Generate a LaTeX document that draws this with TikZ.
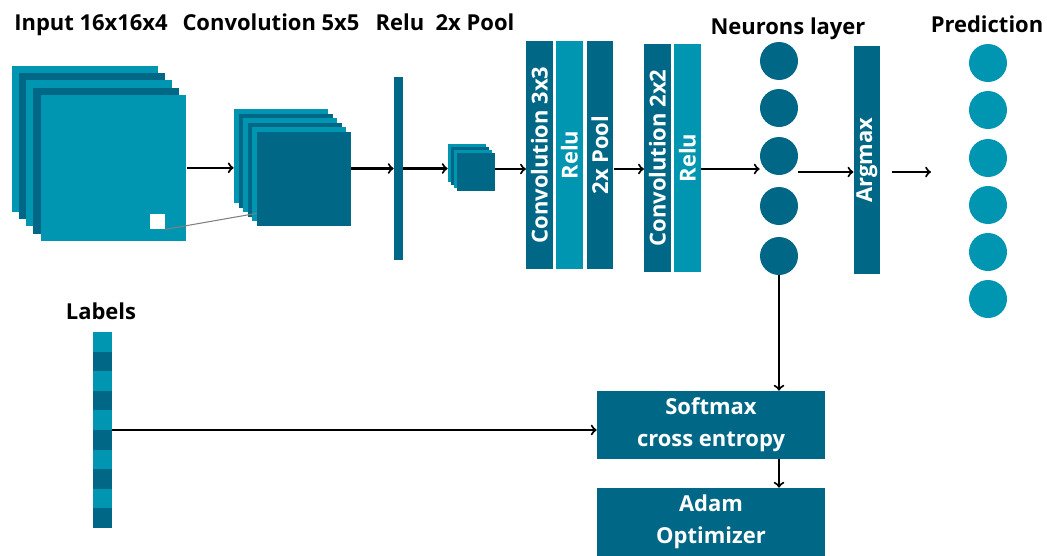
\documentclass[tikz,border=0pt]{standalone}
\usepackage{fontspec}
\setmainfont{Open Sans}
\usepackage{graphicx}
\usepackage{tikz}
\usetikzlibrary{positioning}
\definecolor{tealL}{RGB}{0,150,178}
\definecolor{tealD}{RGB}{0,104,134}

\begin{document}
\begin{tikzpicture}[x=0.02cm, y=-0.02cm,
    every node/.style={font=\fontsize{12.5}{18}\selectfont\bfseries},
    layer/.style={inner sep=0pt, minimum size=#1},
    bar/.style={fill=#1, text=white, inner sep=0pt, minimum width=0.53cm, minimum height=4.56cm},
    neuron/.style={circle, fill=#1, inner sep=0pt, minimum size=0.76cm},
    box/.style={fill=tealD, text=white, align=center, inner sep=0pt, minimum width=4.56cm, minimum height=1.36cm},
    arr/.style={->, line width=1.2pt}]
    \useasboundingbox (0,0) rectangle (1047,555);

    % Titles
    \node[anchor=base] (tin) at (91,30) {Input 16x16x4};
    \node[anchor=base] (tconv) at (271,30) {Convolution 5x5};
    \node[anchor=base] (trelu) at (400,30) {Relu};
    \node[anchor=base] (tpool) at (475,30) {2x Pool};
    \node[anchor=base] (tneur) at (788,34) {Neurons layer};
    \node[anchor=base] (tpred) at (987,32) {Prediction};
    \node[anchor=base] (tlab) at (101,319) {Labels};

    % Input stack
    \foreach \i/\c in {0/tealL,1/tealD,2/tealL,3/tealD,4/tealL}
        \node[layer=2.92cm, fill=\c] (in\i) at ({84.7+7.2*\i},{139+7.2*\i}) {};
    \node[layer=0.3cm, fill=white] (patch) at (157.5,221.5) {};

    % Convolution 5x5 stack
    \foreach \i/\c in {0/tealL,1/tealD,2/tealL,3/tealD,4/tealL,5/tealD}
        \node[layer=1.88cm, fill=\c] (cv\i) at ({281+4.6*\i},{156+4.6*\i}) {};
    \draw[gray, line width=0.6pt] (patch.south east) -- ([yshift=0.26cm]cv5.south west);

    % Relu and pool
    \node[fill=tealD, inner sep=0pt, minimum width=0.18cm, minimum height=3.66cm] (relu) at (398.5,168.5) {};
    \foreach \i/\c in {0/tealL,1/tealD,2/tealL,3/tealD}
        \node[layer=0.76cm, fill=\c] (pl\i) at ({467+3*\i},{163+3*\i}) {};

    % Vertical layers
    \node[bar=tealD] (c3) at (539.5,155) {\rotatebox{90}{Convolution 3x3}};
    \node[bar=tealL] (r1) at (569.5,155) {\rotatebox{90}{Relu}};
    \node[bar=tealD] (p1) at (600,155) {\rotatebox{90}{2x Pool}};
    \node[bar=tealD] (c2) at (657.5,158) {\rotatebox{90}{Convolution 2x2}};
    \node[bar=tealL] (r2) at (687.5,158) {\rotatebox{90}{Relu}};
    \node[bar=tealD] (amax) at (867,160) {\rotatebox{90}{Argmax}};

    % Neurons and prediction
    \foreach \i/\y in {1/61,2/108,3/156,4/206,5/256}
        \node[neuron=tealD] (n\i) at (779,\y) {};
    \foreach \i/\y in {1/63,2/110,3/158,4/205,5/252,6/299}
        \node[neuron=tealL] (o\i) at (988,\y) {};

    % Labels bar
    \node[inner sep=0pt, minimum width=0.38cm, minimum height=3.92cm] (lab) at (102.5,430) {};
    \foreach \i/\c in {0/tealL,1/tealD,2/tealL,3/tealD,4/tealL,5/tealD,6/tealL,7/tealD,8/tealL,9/tealD}
        \fill[\c] (93,{332+19.6*\i}) rectangle (112,{332+19.6*(\i+1)});

    % Loss and optimizer
    \node[box] (soft) at (711,425) {Softmax\\cross entropy};
    \node[box] (adam) at (711,522) {Adam\\Optimizer};

    % Arrows
    \coordinate (row) at (0,169);
    \coordinate (row2) at (0,172);
    \coordinate (outarr) at (931,172);
    \draw[arr] (in4.east) -- (in4.east -| cv0.west);
    \draw[arr] (cv5.east |- relu.west) -- (relu.west);
    \draw[arr] (relu.east) -- (relu.east -| pl0.west);
    \draw[arr] (pl3.east |- row) -- (c3.west |- row);
    \draw[arr] (p1.east |- row) -- (c2.west |- row);
    \draw[arr] (r2.east |- row) -- (n3.west |- row);
    \draw[arr] (n3.east |- row2) -- (amax.west |- row2);
    \draw[arr, shorten <=0.22cm] (amax.east |- row2) -- (outarr);
    \draw[arr] (n5.south) -- (n5.south |- soft.north);
    \draw[arr] (soft.south -| n5.south) -- (adam.north -| n5.south);
    \draw[arr] (lab.east) -- (lab.east -| soft.west);
\end{tikzpicture}
\end{document}
